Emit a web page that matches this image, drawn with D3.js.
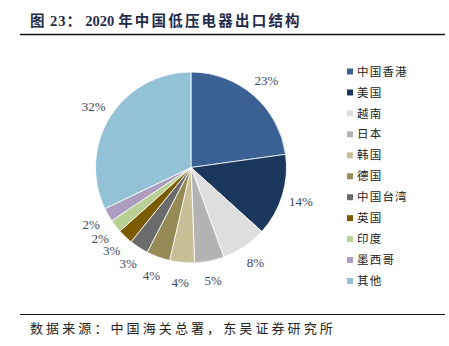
<!DOCTYPE html>
<html><head><meta charset="utf-8">
<script src="https://cdn.jsdelivr.net/npm/d3@7"></script>
<style>body{margin:0;background:#fff;}svg{display:block;}</style>
</head><body>
<svg id="c" width="449" height="346"></svg>
<script>
const categories = ["中国香港","美国","越南","日本","韩国","德国","中国台湾","英国","印度","墨西哥","其他"];
const values = [22.8, 13.9, 7.7, 5.0, 4.2, 4.0, 3.2, 2.6, 2.2, 2.3, 32.1];
const colors = ["#3a6094","#1b375c","#dedede","#b3b3b3","#c8bf96","#968b57","#6b6b6b","#7a5b00","#b9cf94","#ab9cc0","#93c2d6"];
const titleParts = ["图 23：", "2020", "年中国低压电器出口结构"];
const source = "数据来源：中国海关总署，东吴证券研究所";

const svg = d3.select("#c");
const serif = "'Liberation Serif','DejaVu Serif',serif";
const cjk = "'Noto Sans CJK SC','Liberation Serif',serif";

// Title
const t = svg.append("text").attr("x", 30).attr("y", 26)
  .attr("fill", "#1f2b4a").attr("font-weight", "bold").attr("font-size", 14.5)
  .attr("font-family", "'Liberation Serif','Noto Sans CJK SC',serif");
t.append("tspan").attr("letter-spacing", 1).text(titleParts[0]);
t.append("tspan").attr("dx", 3).text(titleParts[1]);
t.append("tspan").attr("dx", 4).attr("letter-spacing", 2.2).text(titleParts[2]);
svg.append("line").attr("x1", 20).attr("x2", 445).attr("y1", 34.5).attr("y2", 34.5)
  .attr("stroke", "#111").attr("stroke-width", 1.5);

// Pie
const cx = 191, cy = 167.5, R = 95.5;
const pie = d3.pie().sort(null).value(d => d)(values);
const arc = d3.arc().innerRadius(0).outerRadius(R);
const g = svg.append("g").attr("transform", `translate(${cx},${cy})`);
g.selectAll("path").data(pie).join("path")
  .attr("d", arc).attr("fill", (d, i) => colors[i])
  .attr("stroke", "#fff").attr("stroke-width", 0.8);

const labelArc = d3.arc().innerRadius(115).outerRadius(115);
g.selectAll("text.lbl").data(pie).join("text")
  .attr("class", "lbl")
  .attr("transform", d => { const c = labelArc.centroid(d); return `translate(${c[0]},${c[1]})`; })
  .attr("text-anchor", "middle").attr("dy", "0.35em")
  .attr("font-family", serif).attr("font-size", 13).attr("fill", "#3d4766")
  .text(d => Math.round(d.data) + "%");

// Legend
const legend = svg.append("g");
const ly = d3.scalePoint().domain(categories).range([71.5, 281]);
const rows = legend.selectAll("g").data(categories).join("g")
  .attr("transform", d => `translate(347,${ly(d)})`);
rows.append("rect").attr("x", 0).attr("y", -3).attr("width", 6).attr("height", 6)
  .attr("fill", (d, i) => colors[i]);
rows.append("text").attr("x", 10).attr("dy", "0.36em")
  .attr("font-family", cjk).attr("font-size", 11.5).attr("letter-spacing", 1.2).attr("fill", "#222")
  .text(d => d);

// Source
svg.append("line").attr("x1", 20).attr("x2", 445).attr("y1", 314.5).attr("y2", 314.5)
  .attr("stroke", "#111").attr("stroke-width", 1.2);
svg.append("text").attr("x", 30).attr("y", 333)
  .attr("font-family", cjk).attr("font-size", 13).attr("letter-spacing", 3.1).attr("fill", "#222")
  .text(source);
</script>
</body></html>
